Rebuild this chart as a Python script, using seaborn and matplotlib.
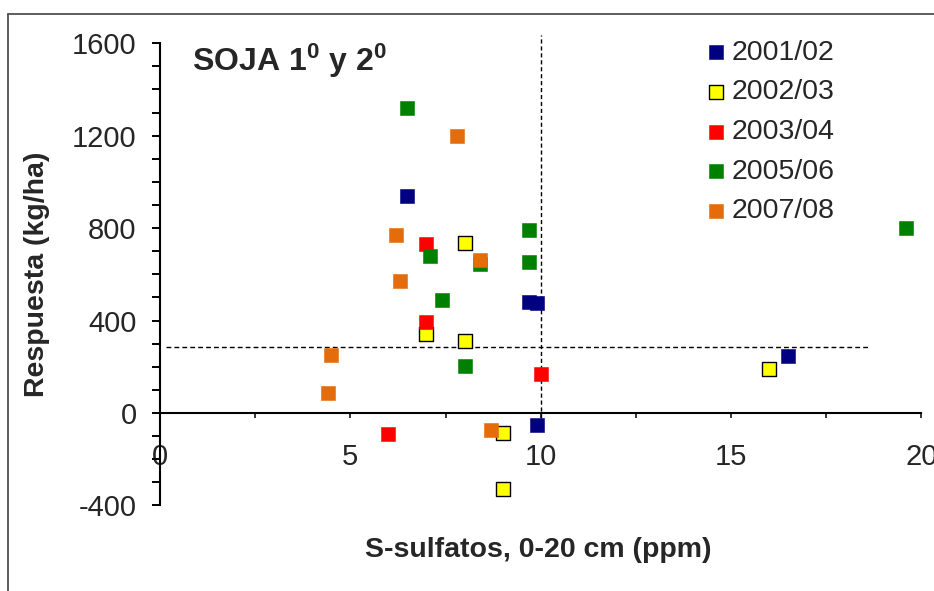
#!/usr/bin/env python3
# Respuesta de soja al azufre vs S-sulfatos (0-20 cm)

import pandas as pd
import numpy as np
import matplotlib
matplotlib.use('Agg')
import matplotlib.pyplot as plt
from matplotlib.ticker import FixedLocator
from matplotlib.lines import Line2D
import seaborn as sns

# Data
campanas = ['2001/02', '2002/03', '2003/04', '2005/06', '2007/08']

x_0102 = [6.5, 9.7, 9.9, 9.9, 16.5]
y_0102 = [940, 480, 478, -50, 245]

x_0203 = [8.0, 7.0, 8.0, 9.0, 9.0, 16.0]
y_0203 = [735, 340, 310, -85, -330, 190]

x_0304 = [7.0, 7.0, 10.0, 6.0]
y_0304 = [730, 395, 170, -90]

x_0506 = [6.5, 7.1, 8.4, 9.7, 9.7, 7.4, 8.0, 19.6]
y_0506 = [1320, 680, 645, 790, 655, 490, 205, 800]

x_0708 = [7.8, 6.2, 8.4, 6.3, 4.5, 4.4, 8.7]
y_0708 = [1200, 770, 660, 570, 250, 85, -75]

# reference (threshold) lines
umbral_s = 10
umbral_resp = 285

colores = ['#000080', '#FFFF00', '#FF0000', '#008000', '#E46C0A']
bordes = ['#000080', '#000000', '#FF0000', '#008000', '#E46C0A']

series = [(x_0102, y_0102), (x_0203, y_0203), (x_0304, y_0304),
          (x_0506, y_0506), (x_0708, y_0708)]

frames = []
for camp, (xs, ys) in zip(campanas, series):
    frames.append(pd.DataFrame({'s_sulfatos': xs, 'respuesta': ys, 'campana': camp}))
df = pd.concat(frames, ignore_index=True)

# Style
sns.set_style('white')
plt.rcParams['font.family'] = ['Liberation Sans', 'DejaVu Sans']
plt.rcParams['axes.unicode_minus'] = False
plt.rcParams['mathtext.fontset'] = 'custom'
plt.rcParams['mathtext.rm'] = 'Liberation Sans'
plt.rcParams['mathtext.bf'] = 'Liberation Sans:bold'
plt.rcParams['mathtext.it'] = 'Liberation Sans:italic'

W, H = 934, 591
fig = plt.figure(figsize=(W / 100, H / 100), dpi=100)
ax = fig.add_axes([160 / W, 0, 774 / W, 1])
ax.patch.set_visible(False)

for camp, col, edge in zip(campanas, colores, bordes):
    sub = df[df['campana'] == camp]
    lw = 1.0 if edge == '#000000' else 0.4
    sns.scatterplot(data=sub, x='s_sulfatos', y='respuesta', color=col,
                    marker='s', s=112, edgecolor=edge, linewidth=lw,
                    label=camp, ax=ax, zorder=3)

ax.vlines(umbral_s, -50, 1635, colors='black', linestyles=(0, (3, 2)), lw=1.0, zorder=2)
ax.hlines(umbral_resp, 0.15, 18.6, colors='black', linestyles=(0, (3.5, 2.2)), lw=1.0, zorder=2)

ax.set_xlim(0, 774 / 38.07)
ax.set_ylim((413 - 591) / 0.2311, 413 / 0.2311)

for side in ['top', 'right']:
    ax.spines[side].set_visible(False)
ax.spines['left'].set_bounds(-400, 1600)
ax.spines['bottom'].set_position(('data', 0))
ax.spines['bottom'].set_bounds(0, 20)
for side in ['left', 'bottom']:
    ax.spines[side].set_linewidth(1.5)
    ax.spines[side].set_color('black')

ax.yaxis.set_major_locator(FixedLocator(np.arange(-400, 1601, 400)))
ax.yaxis.set_minor_locator(FixedLocator(np.arange(-400, 1601, 100)))
ax.xaxis.set_major_locator(FixedLocator(np.arange(0, 21, 5)))
ax.xaxis.set_minor_locator(FixedLocator(np.arange(0, 20.1, 2.5)))

ax.tick_params(axis='y', which='both', direction='out', length=5.8, width=1.4,
               left=True, labelsize=21, pad=11, color='black')
ax.tick_params(axis='x', which='both', direction='out', length=3.6, width=1.1,
               bottom=True, labelsize=21, pad=18, color='black')

ax.set_xlabel('')
ax.set_ylabel('')

fig.text(37 / W, 1 - 274 / H, 'Respuesta (kg/ha)', rotation=90, ha='center',
         va='center', fontsize=20.5, fontweight='bold')
fig.text(538 / W, 1 - 550 / H, 'S-sulfatos, 0-20 cm (ppm)', ha='center',
         va='center', fontsize=20.5, fontweight='bold')
fig.text(192 / W, 1 - 71 / H, r'SOJA 1$^{\mathbf{0}}$ y 2$^{\mathbf{0}}$',
         ha='left', va='baseline', fontsize=23, fontweight='bold')

ax.legend(loc='upper left', bbox_to_anchor=(14.38, 1615), bbox_transform=ax.transData,
          frameon=False, fontsize=20.5, handlelength=0.6, handletextpad=0.25,
          labelspacing=0.48, borderpad=0, borderaxespad=0, markerscale=1.0)

# chart-area border (partly cropped in the reference)
fig.add_artist(Line2D([8 / W, 1], [1 - 14 / H, 1 - 14 / H], color='#505050', lw=1.3))
fig.add_artist(Line2D([8 / W, 8 / W], [0, 1 - 14 / H], color='#505050', lw=1.3))

fig.savefig('out.png', dpi=100)
